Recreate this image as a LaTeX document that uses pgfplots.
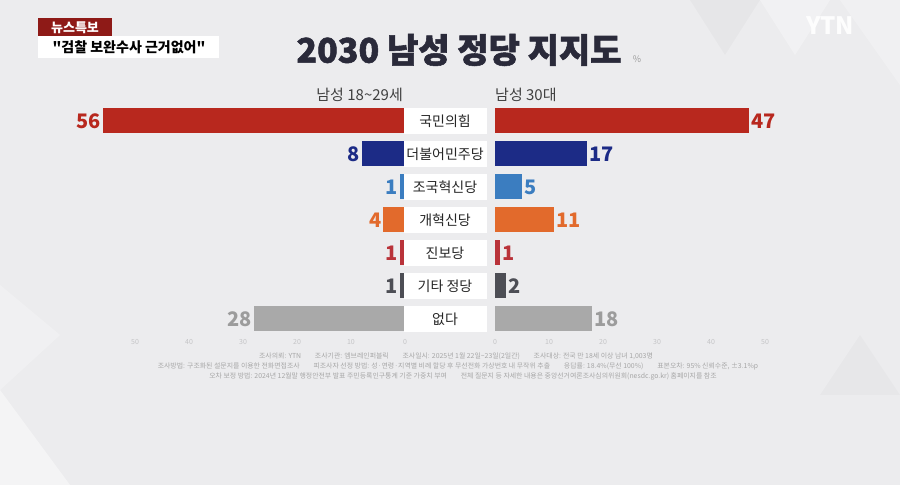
\documentclass[border=0pt]{standalone}
\usepackage{pgfplots}
\pgfplotsset{compat=1.18}
\usepackage{fontspec}
\setmainfont{Noto Sans CJK KR}
\newfontfamily\quotefont{Noto Sans CJK KR}[Ligatures=TeXOff]
\newfontfamily\titlefont{Noto Sans CJK KR}[BoldFeatures={FakeBold=1.6}]
\definecolor{bg}{HTML}{ECECEE}
\definecolor{ppp}{HTML}{B8281E}
\definecolor{dem}{HTML}{1C2B86}
\definecolor{rebuild}{HTML}{3B7DC0}
\definecolor{reform}{HTML}{E26A2C}
\definecolor{prog}{HTML}{B9333A}
\definecolor{etc}{HTML}{4D4E55}
\definecolor{nonec}{HTML}{A9A9A9}
\definecolor{nonetxt}{HTML}{9C9C9C}
\definecolor{tickgrey}{HTML}{C4C4C6}
\definecolor{titlec}{HTML}{2A2A3A}
\definecolor{newsred}{HTML}{8E1A17}
\pgfplotsset{
  butterfly/.style={
    scale only axis, width=324pt, height=231pt,
    xmin=0, xmax=60, ymin=-0.5, ymax=6.5, y dir=reverse,
    axis line style={draw=none}, tick style={draw=none},
    xtick={0,10,...,50},
    xticklabel style={font=\fontsize{7}{8}\selectfont, text=tickgrey},
    /pgf/number format/assume math mode=true,
    xbar, bar width=25pt, bar shift=0pt, clip=false,
    nodes near coords,
    every node near coord/.append style={font=\fontsize{20}{20}\selectfont\bfseries, inner sep=2pt},
  }
}
\begin{document}
\begin{tikzpicture}[x=1pt,y=1pt]
\path[use as bounding box, fill=bg] (0,0) rectangle (900,485);
% faint background triangles
\fill[white,opacity=0.45] (0,0) -- (0,95) -- (70,0) -- cycle;
\fill[white,opacity=0.25] (0,95) -- (60,150) -- (0,200) -- cycle;
\fill[white,opacity=0.25] (840,485) -- (900,485) -- (900,400) -- cycle;
\fill[black,opacity=0.025] (690,485) -- (760,485) -- (725,430) -- cycle;
\fill[white,opacity=0.3] (760,485) -- (830,485) -- (795,430) -- cycle;
\fill[black,opacity=0.02] (820,90) -- (900,90) -- (860,150) -- cycle;
% top-left labels
\fill[newsred] (38,448) rectangle (112,467);
\node[text=white, font=\fontsize{13}{13}\selectfont\bfseries] at (75,457.5) {뉴스특보};
\fill[white] (38,427) rectangle (219,449);
\node[text=black, font=\fontsize{14}{14}\quotefont\bfseries] at (129,438) {"검찰 보완수사 근거없어"};
% YTN logo
\node[text=white, font=\fontsize{24}{24}\selectfont\bfseries, opacity=0.9] at (830,459) {YTN};
% title
\node[text=titlec, font=\fontsize{34}{34}\titlefont\bfseries] at (459,435) {2030 남성 정당 지지도};
\node[text=nonetxt, font=\fontsize{9}{9}\selectfont] at (637,426) {\%};

% left axis: men 18-29
\begin{axis}[butterfly, at={(405pt,380.5pt)}, anchor=north east, x dir=reverse, ytick=\empty,
  every node near coord/.append style={anchor=east}]
\addplot[fill=ppp, draw=none, every node near coord/.append style={text=ppp}] coordinates {(56,0)};
\addplot[fill=dem, draw=none, every node near coord/.append style={text=dem}] coordinates {(8,1)};
\addplot[fill=rebuild, draw=none, every node near coord/.append style={text=rebuild}] coordinates {(1,2)};
\addplot[fill=reform, draw=none, every node near coord/.append style={text=reform}] coordinates {(4,3)};
\addplot[fill=prog, draw=none, every node near coord/.append style={text=prog}] coordinates {(1,4)};
\addplot[fill=etc, draw=none, every node near coord/.append style={text=etc}] coordinates {(1,5)};
\addplot[fill=nonec, draw=none, every node near coord/.append style={text=nonetxt}] coordinates {(28,6)};
\end{axis}

% right axis: men 30s
\begin{axis}[butterfly, at={(495pt,380.5pt)}, anchor=north west,
  ytick={0,1,2,3,4,5,6},
  yticklabels={국민의힘,더불어민주당,조국혁신당,개혁신당,진보당,기타 정당,없다},
  yticklabel style={anchor=east, fill=white, minimum width=83pt, minimum height=26pt,
    inner sep=0pt, xshift=-4pt, font=\fontsize{14}{14}\selectfont, text=black!85},
  every node near coord/.append style={anchor=west}]
\addplot[fill=ppp, draw=none, every node near coord/.append style={text=ppp}] coordinates {(47,0)};
\addplot[fill=dem, draw=none, every node near coord/.append style={text=dem}] coordinates {(17,1)};
\addplot[fill=rebuild, draw=none, every node near coord/.append style={text=rebuild}] coordinates {(5,2)};
\addplot[fill=reform, draw=none, every node near coord/.append style={text=reform}] coordinates {(11,3)};
\addplot[fill=prog, draw=none, every node near coord/.append style={text=prog}] coordinates {(1,4)};
\addplot[fill=etc, draw=none, every node near coord/.append style={text=etc}] coordinates {(2,5)};
\addplot[fill=nonec, draw=none, every node near coord/.append style={text=nonetxt}] coordinates {(18,6)};
\end{axis}

% group headers
\node[anchor=east, text=black!75, font=\fontsize{15}{15}\selectfont, inner sep=0pt] at (403,390) {남성 18\textasciitilde 29세};
\node[anchor=west, text=black!75, font=\fontsize{15}{15}\selectfont, inner sep=0pt] at (495,390) {남성 30대};

% footnote
\begin{scope}[every node/.style={text=black!35, font=\fontsize{6.9}{7}\selectfont, inner sep=0pt}]
\node at (456,129) {조사의뢰: YTN\quad\quad 조사기관: 엠브레인퍼블릭\quad\quad 조사일시: 2025년 1월 22일\textasciitilde 23일(2일간)\quad\quad 조사대상: 전국 만 18세 이상 남녀 1,003명};
\node at (458,119) {조사방법: 구조화된 설문지를 이용한 전화면접조사\quad\quad 피조사자 선정 방법: 성·연령·지역별 비례 할당 후 무선전화 가상번호 내 무작위 추출\quad\quad 응답률: 18.4\%(무선 100\%)\quad\quad 표본오차: 95\% 신뢰수준, ±3.1\%p};
\node at (463,109) {오차 보정 방법: 2024년 12월말 행정안전부 발표 주민등록인구통계 기준 가중치 부여\quad\quad 전체 질문지 등 자세한 내용은 중앙선거여론조사심의위원회(nesdc.go.kr) 홈페이지를 참조};
\end{scope}
\end{tikzpicture}
\end{document}
